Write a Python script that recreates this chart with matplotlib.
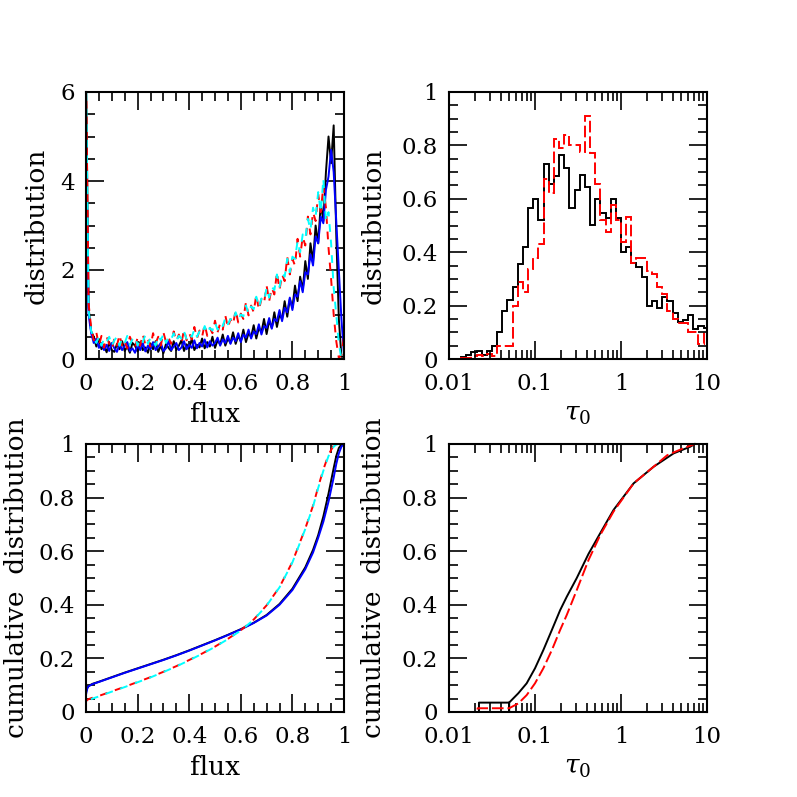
import numpy as np
import matplotlib
matplotlib.use("Agg")
import matplotlib.pyplot as plt
from matplotlib.ticker import MultipleLocator, FuncFormatter, LogLocator

plt.rcParams['font.family'] = ['DejaVu Serif']
plt.rcParams['mathtext.fontset'] = 'dejavuserif'

# ---- flux distribution (top left), sampled every 0.01 in flux ----
flux_grid = np.round(np.arange(0, 101) * 0.01, 2)

flux_pdf_black = [
    6.5,
    1.15, 0.62, 0.5, 0.28, 0.45, 0.22, 0.3, 0.15, 0.38, 0.2,
    0.16, 0.34, 0.22, 0.4, 0.18, 0.28, 0.14, 0.36, 0.3, 0.17,
    0.38, 0.2, 0.26, 0.14, 0.35, 0.22, 0.4, 0.16, 0.3, 0.13,
    0.34, 0.25, 0.18, 0.4, 0.2, 0.3, 0.42, 0.18, 0.33, 0.24,
    0.45, 0.2, 0.32, 0.26, 0.46, 0.24, 0.38, 0.28, 0.5, 0.25,
    0.42, 0.33, 0.55, 0.3, 0.46, 0.36, 0.6, 0.34, 0.52, 0.4,
    0.66, 0.38, 0.58, 0.5, 0.76, 0.46, 0.7, 0.6, 0.9, 0.56,
    0.86, 0.7, 1.05, 0.72, 1.0, 0.9, 1.3, 0.95, 1.35, 1.15,
    1.65, 1.3, 1.85, 1.55, 2.2, 1.8, 2.6, 2.2, 3.0, 2.6,
    3.5, 3.1, 4.2, 5.0, 4.4, 5.25, 2.8, 0.9, 0.05, 0.05]

flux_pdf_blue = [
    5.0,
    1.0, 0.58, 0.36, 0.46, 0.25, 0.36, 0.2, 0.32, 0.18, 0.36,
    0.24, 0.16, 0.34, 0.2, 0.3, 0.38, 0.18, 0.24, 0.14, 0.33,
    0.2, 0.36, 0.17, 0.3, 0.22, 0.38, 0.2, 0.28, 0.36, 0.18,
    0.24, 0.4, 0.2, 0.28, 0.36, 0.2, 0.26, 0.4, 0.22, 0.32,
    0.25, 0.42, 0.24, 0.36, 0.28, 0.44, 0.26, 0.4, 0.3, 0.36,
    0.48, 0.3, 0.44, 0.36, 0.52, 0.34, 0.48, 0.4, 0.58, 0.38,
    0.55, 0.48, 0.66, 0.46, 0.62, 0.56, 0.78, 0.55, 0.74, 0.7,
    0.92, 0.68, 0.9, 0.85, 1.1, 0.85, 1.15, 1.05, 1.38, 1.1,
    1.45, 1.4, 1.75, 1.5, 1.95, 1.9, 2.35, 2.1, 2.75, 2.6,
    3.2, 3.05, 3.8, 4.1, 4.7, 4.2, 3.1, 2.0, 0.9, 0.1]

flux_pdf_red = [
    6.5,
    1.25, 0.7, 0.42, 0.6, 0.3, 0.52, 0.26, 0.5, 0.34, 0.22,
    0.46, 0.3, 0.55, 0.28, 0.4, 0.24, 0.5, 0.36, 0.26, 0.48,
    0.3, 0.56, 0.32, 0.44, 0.28, 0.58, 0.35, 0.5, 0.3, 0.6,
    0.38, 0.48, 0.34, 0.62, 0.4, 0.55, 0.36, 0.66, 0.42, 0.58,
    0.44, 0.72, 0.46, 0.64, 0.5, 0.78, 0.52, 0.7, 0.58, 0.86,
    0.6, 0.8, 0.66, 0.98, 0.7, 0.9, 0.78, 1.1, 0.82, 1.02,
    0.9, 1.28, 0.98, 1.2, 1.05, 1.45, 1.1, 1.35, 1.25, 1.65,
    1.3, 1.6, 1.45, 1.95, 1.55, 1.9, 1.75, 2.3, 1.9, 2.25,
    2.1, 2.7, 2.3, 2.75, 2.55, 3.2, 2.8, 3.3, 3.1, 3.7,
    3.3, 3.9, 3.4, 2.5, 1.8, 1.0, 0.4, 0.02, 0.1, 0.5]

flux_pdf_cyan = [
    6.5,
    1.1, 0.62, 0.5, 0.36, 0.5, 0.3, 0.46, 0.38, 0.5, 0.3,
    0.42, 0.5, 0.3, 0.46, 0.36, 0.52, 0.32, 0.44, 0.5, 0.3,
    0.46, 0.38, 0.54, 0.34, 0.48, 0.4, 0.3, 0.52, 0.42, 0.56,
    0.36, 0.5, 0.44, 0.58, 0.4, 0.52, 0.46, 0.62, 0.44, 0.56,
    0.5, 0.66, 0.5, 0.62, 0.56, 0.74, 0.58, 0.7, 0.64, 0.82,
    0.66, 0.8, 0.74, 0.92, 0.78, 0.9, 0.84, 1.05, 0.88, 1.0,
    0.96, 1.2, 1.02, 1.18, 1.12, 1.4, 1.16, 1.36, 1.3, 1.6,
    1.38, 1.62, 1.55, 1.9, 1.62, 1.92, 1.85, 2.25, 1.95, 2.3,
    2.25, 2.65, 2.4, 2.8, 2.7, 3.15, 2.9, 3.4, 3.2, 3.75,
    3.3, 4.05, 3.1, 3.3, 2.6, 1.6, 1.0, 0.35, 0.0, 0.1]

# ---- tau_0 histogram (top right), bins of 0.06 dex ----
tau_log_edges = np.arange(-34, 18) * 0.06
tau_edges = 10 ** tau_log_edges

tau_hist_black = [
    0, 0, 0, 0.006, 0.015, 0.025, 0.03, 0.015, 0.03, 0.05,
    0.1, 0.18, 0.22, 0.27, 0.355, 0.42, 0.565, 0.6, 0.52, 0.73,
    0.655, 0.685, 0.765, 0.715, 0.565, 0.633, 0.69, 0.645, 0.502, 0.598,
    0.548, 0.528, 0.598, 0.528, 0.402, 0.42, 0.36, 0.346, 0.308, 0.2,
    0.218, 0.19, 0.233, 0.218, 0.171, 0.14, 0.146, 0.165, 0.111, 0.124,
    0.115]

tau_hist_red = [
    0, 0, 0, 0.003, 0.005, 0.012, 0.015, 0.012, 0.018, 0.012,
    0.05, 0.05, 0.05, 0.2, 0.287, 0.25, 0.337, 0.377, 0.43, 0.673,
    0.62, 0.823, 0.79, 0.84, 0.8, 0.8, 0.776, 0.91, 0.77, 0.655,
    0.52, 0.477, 0.577, 0.52, 0.44, 0.53, 0.36, 0.38, 0.38, 0.33,
    0.32, 0.27, 0.245, 0.18, 0.15, 0.135, 0.135, 0.1, 0.1, 0.055,
    0.1]

# ---- cumulative flux distribution (bottom left) ----
flux_cum_x = [0, 0.005, 0.01, 0.025, 0.05, 0.1, 0.15, 0.2, 0.25, 0.3, 0.35, 0.4,
              0.45, 0.5, 0.55, 0.6, 0.65, 0.7, 0.75, 0.8, 0.85, 0.88, 0.9,
              0.92, 0.94, 0.96, 0.97, 0.98, 0.99, 1.0]
flux_cum_black = [0.075, 0.09, 0.097, 0.105, 0.113, 0.13, 0.147, 0.163, 0.179, 0.195, 0.212, 0.23,
                  0.249, 0.268, 0.288, 0.309, 0.333, 0.362, 0.403, 0.46, 0.54, 0.605, 0.66,
                  0.73, 0.815, 0.91, 0.955, 0.985, 0.998, 1.0]
flux_cum_blue = [0.065, 0.088, 0.096, 0.104, 0.112, 0.129, 0.146, 0.162, 0.178, 0.194, 0.211, 0.229,
                 0.248, 0.267, 0.287, 0.308, 0.332, 0.36, 0.4, 0.455, 0.533, 0.595, 0.65,
                 0.71, 0.785, 0.875, 0.925, 0.965, 0.99, 1.0]
flux_cum_red = [0.04, 0.045, 0.048, 0.053, 0.06, 0.077, 0.094, 0.112, 0.13, 0.15, 0.171, 0.194,
                0.218, 0.244, 0.273, 0.305, 0.345, 0.398, 0.466, 0.56, 0.685, 0.77, 0.84,
                0.905, 0.96, 0.995, 1.0, 1.0, 1.0, 1.0]
flux_cum_cyan = [0.026, 0.036, 0.042, 0.05, 0.058, 0.076, 0.093, 0.111, 0.129, 0.149, 0.17, 0.193,
                 0.217, 0.243, 0.272, 0.304, 0.344, 0.397, 0.465, 0.558, 0.683, 0.767, 0.836,
                 0.9, 0.955, 0.99, 0.998, 1.0, 1.0, 1.0]

# ---- cumulative tau_0 distribution (bottom right) ----
tau_cum_black_x = [0.0223, 0.0223, 0.05, 0.05, 0.05, 0.064, 0.08, 0.1, 0.125, 0.157, 0.196,
                   0.234, 0.306, 0.419, 0.573, 0.819, 1.4, 2.39, 4.09, 6.4, 7.2]
tau_cum_black_y = [0, 0.035, 0.035, 0, 0.035, 0.07, 0.107, 0.163, 0.231, 0.306, 0.38,
                   0.43, 0.5, 0.59, 0.667, 0.754, 0.853, 0.915, 0.965, 0.99, 1.0]
tau_cum_red_x = [0.01, 0.0215, 0.0215, 0.05, 0.064, 0.08, 0.1, 0.125, 0.157, 0.196, 0.234,
                 0.306, 0.419, 0.573, 0.819, 1.4, 2.39, 3.44, 5.3, 7.2]
tau_cum_red_y = [0, 0, 0.014, 0.014, 0.032, 0.063, 0.107, 0.163, 0.231, 0.306, 0.362,
                 0.455, 0.567, 0.66, 0.748, 0.853, 0.915, 0.958, 0.984, 1.0]


def fmt(v, pos):
    return '%g' % v


def style_axis(ax, logx=False):
    ax.tick_params(which='both', direction='in', top=True, right=True,
                   labelsize=16.5)
    ax.tick_params(axis='x', pad=10)
    ax.tick_params(axis='y', pad=8)
    ax.tick_params(which='major', length=13, width=1.2)
    ax.tick_params(which='minor', length=6.5, width=1.2)
    for s in ax.spines.values():
        s.set_linewidth(1.5)
    if logx:
        ax.set_xscale('log')
        ax.set_xlim(0.01, 10)
        ax.xaxis.set_major_locator(LogLocator(base=10, numticks=10))
        ax.xaxis.set_minor_locator(LogLocator(base=10, subs=np.arange(2, 10), numticks=20))
    else:
        ax.set_xlim(0, 1)
        ax.xaxis.set_major_locator(MultipleLocator(0.2))
        ax.xaxis.set_minor_locator(MultipleLocator(0.05))
    ax.xaxis.set_major_formatter(FuncFormatter(fmt))
    ax.yaxis.set_major_formatter(FuncFormatter(fmt))


fig = plt.figure(figsize=(7.97, 7.97), dpi=100)
W = 797.0
ax1 = fig.add_axes([86 / W, 1 - 359 / W, 258 / W, 267 / W])
ax2 = fig.add_axes([449 / W, 1 - 359 / W, 258 / W, 267 / W])
ax3 = fig.add_axes([86 / W, 1 - 712 / W, 258 / W, 268 / W])
ax4 = fig.add_axes([449 / W, 1 - 712 / W, 258 / W, 268 / W])

lw = 1.4
short_red = (0, (4, 4))
short_cyan = (4, (4, 4))
long_red = (0, (6, 2))

# top left
ax1.plot(flux_grid, flux_pdf_black, color='black', lw=lw)
ax1.plot(flux_grid, flux_pdf_blue, color='blue', lw=lw)
ax1.plot(flux_grid, flux_pdf_red, color='red', lw=lw, ls=short_red)
ax1.plot(flux_grid, flux_pdf_cyan, color='cyan', lw=lw, ls=short_cyan)
style_axis(ax1)
ax1.set_ylim(0, 6)
ax1.yaxis.set_major_locator(MultipleLocator(2))
ax1.yaxis.set_minor_locator(MultipleLocator(0.5))
ax1.set_xlabel('flux', fontsize=19)
ax1.set_ylabel('distribution', fontsize=19)

# top right
ax2.stairs(tau_hist_black, tau_edges, color='black', lw=lw)
ax2.stairs(tau_hist_red, tau_edges, color='red', lw=lw, ls=long_red)
style_axis(ax2, logx=True)
ax2.set_ylim(0, 1)
ax2.yaxis.set_major_locator(MultipleLocator(0.2))
ax2.yaxis.set_minor_locator(MultipleLocator(0.05))
ax2.set_xlabel(r'$\tau_0$', fontsize=19)
ax2.set_ylabel('distribution', fontsize=19)

# bottom left
ax3.plot(flux_cum_x, flux_cum_black, color='black', lw=lw)
ax3.plot(flux_cum_x, flux_cum_blue, color='blue', lw=lw)
ax3.plot(flux_cum_x, flux_cum_red, color='red', lw=lw, ls=short_red)
ax3.plot(flux_cum_x, flux_cum_cyan, color='cyan', lw=lw, ls=short_cyan)
style_axis(ax3)
ax3.set_ylim(0, 1)
ax3.yaxis.set_major_locator(MultipleLocator(0.2))
ax3.yaxis.set_minor_locator(MultipleLocator(0.05))
ax3.set_xlabel('flux', fontsize=19)
ax3.set_ylabel('cumulative  distribution', fontsize=19)

# bottom right
ax4.plot(tau_cum_black_x, tau_cum_black_y, color='black', lw=lw, clip_on=False)
ax4.plot(tau_cum_red_x, tau_cum_red_y, color='red', lw=lw, ls=long_red, clip_on=False)
style_axis(ax4, logx=True)
ax4.set_ylim(0, 1)
ax4.yaxis.set_major_locator(MultipleLocator(0.2))
ax4.yaxis.set_minor_locator(MultipleLocator(0.05))
ax4.set_xlabel(r'$\tau_0$', fontsize=19)
ax4.set_ylabel('cumulative  distribution', fontsize=19)

# label placement
ax1.yaxis.set_label_coords(-0.143, 0.5)
ax2.yaxis.set_label_coords(-0.244, 0.5)
ax3.yaxis.set_label_coords(-0.221, 0.5)
ax4.yaxis.set_label_coords(-0.244, 0.5)
for ax in (ax1, ax2, ax3, ax4):
    ax.xaxis.set_label_coords(0.5, -0.16)

fig.savefig('out.png', dpi=100)
